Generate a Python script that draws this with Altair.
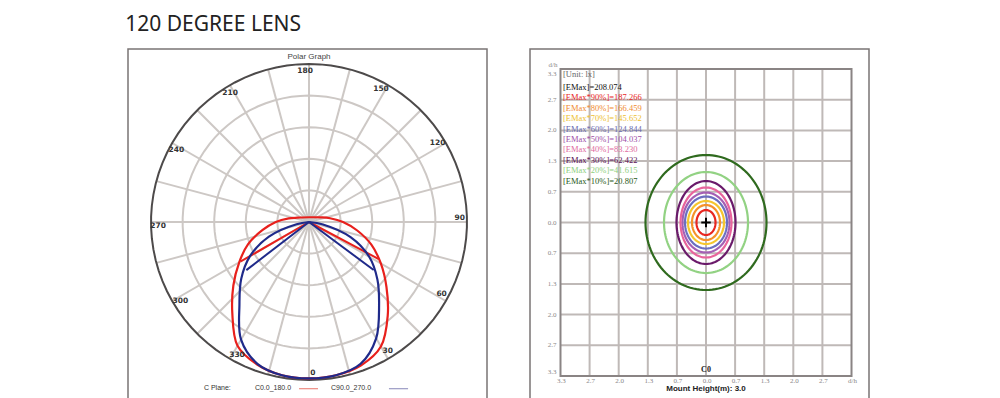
import altair as alt
import numpy as np
import pandas as pd

TITLE = "120 DEGREE LENS"

# ---------------- polar graph (left panel) ----------------
RING_RADII = [0.2, 0.4, 0.6, 0.8]
OUTER_RADIUS = [1.0]
SPOKE_ANGLES = list(range(0, 360, 15))
LABEL_ANGLES = [0, 30, 60, 90, 120, 150, 180, 210, 240, 270, 300, 330]
LABEL_TEXTS = ["0", "30", "60", "90", "120", "150", "180", "210", "240", "270", "300", "330"]

# relative intensity (outer ring = 1.0), angle 0 = straight down, + = right half
C0_ANGLES = [-180, -110, -100, -90, -80, -70, -60, -50, -40, -30, -20, -10, 0,
             10, 20, 30, 40, 50, 60, 70, 80, 90, 100, 110, 180]
C0_VALUES = [0.03, 0.08, 0.13, 0.21, 0.30, 0.41, 0.51, 0.625, 0.755, 0.905, 0.96, 0.985, 0.99,
             0.985, 0.965, 0.91, 0.775, 0.64, 0.525, 0.42, 0.31, 0.215, 0.135, 0.085, 0.03]
C90_ANGLES = [-90, -80, -70, -60, -50, -40, -30, -20, -10, 0,
              10, 20, 30, 40, 50, 60, 70, 80, 90]
C90_VALUES = [0.0, 0.08, 0.27, 0.43, 0.56, 0.685, 0.86, 0.955, 0.985, 0.99,
              0.985, 0.955, 0.85, 0.69, 0.565, 0.44, 0.28, 0.09, 0.0]
C0_CUT_ANGLES = [-60, 62]
C0_CUT_VALUES = [0.50, 0.50]
C90_CUT_ANGLES = [-52.5, 53.4]
C90_CUT_VALUES = [0.50, 0.51]

RED = "#e8201c"
BLUE = "#1f2a8a"

# ---------------- isolux diagram (right panel) ----------------
ISO_LEVELS = ["90%", "80%", "70%", "60%", "50%", "40%", "30%", "20%", "10%"]
ISO_COLORS = ["#e8261f", "#f5922a", "#f5c62e", "#6b6fc0", "#a45fb4", "#e8649c",
              "#6a1a6a", "#92d283", "#2f6a1e"]
ISO_HALF_X = [0.218, 0.321, 0.412, 0.481, 0.538, 0.584, 0.676, 0.962, 1.386]
ISO_HALF_Y = [0.271, 0.380, 0.467, 0.565, 0.651, 0.760, 0.901, 1.097, 1.466]

LEGEND_LABELS = ["[Unit: lx]", "[EMax]=208.074", "[EMax*90%]=187.266", "[EMax*80%]=166.459",
                 "[EMax*70%]=145.652", "[EMax*60%]=124.844", "[EMax*50%]=104.037",
                 "[EMax*40%]=83.230", "[EMax*30%]=62.422", "[EMax*20%]=41.615",
                 "[EMax*10%]=20.807"]
LEGEND_COLORS = ["#666666", "#111111", "#e8261f", "#f08a30", "#eec030", "#6a6ab0",
                 "#a050a8", "#e06aa0", "#5a0f55", "#8fd080", "#2a5a20"]

GRID_TICKS = [-10 / 3, -8 / 3, -2, -4 / 3, -2 / 3, 0, 2 / 3, 4 / 3, 2, 8 / 3, 10 / 3]
X_TICK_LABELS = ["3.3", "2.7", "2.0", "1.3", "0.7", "0.0", "0.7", "1.3", "2.0", "2.7", "d/h"]
Y_TICK_LABELS = ["3.3", "2.7", "2.0", "1.3", "0.7", "0.0", "0.7", "1.3", "2.0", "2.7", "3.3"]

# ======================= LEFT PANEL =======================
LW, LH = 359, 352
xs_l = alt.Scale(domain=[-1.1456, 1.1266], nice=False, zero=False)
ys_l = alt.Scale(domain=[-1.1329, 1.0949], nice=False, zero=False)

def pxy(ch):
    return ch.transform_calculate(
        px="datum.r*sin(datum.ang*PI/180)",
        py="-datum.r*cos(datum.ang*PI/180)")

def enc_l(ch, **kw):
    return ch.encode(x=alt.X("px:Q", scale=xs_l, axis=None),
                     y=alt.Y("py:Q", scale=ys_l, axis=None), **kw)

ring_angles = list(range(0, 361, 4))
rings = pd.DataFrame([{"ring": r, "r": r, "ang": a, "i": k}
                      for r in RING_RADII for k, a in enumerate(ring_angles)])
outer = pd.DataFrame([{"ring": r, "r": r, "ang": a, "i": k}
                      for r in OUTER_RADIUS for k, a in enumerate(ring_angles)])
spokes = pd.DataFrame([{"s": a, "r": rr, "ang": a, "i": k}
                       for a in SPOKE_ANGLES for k, rr in enumerate([0.0, 1.0])])

ring_layer = enc_l(pxy(alt.Chart(rings).mark_line(color="#cdc8c5", strokeWidth=2)),
                   detail="ring:N", order="i:Q")
spoke_layer = enc_l(pxy(alt.Chart(spokes).mark_line(color="#cdc8c5", strokeWidth=2)),
                    detail="s:N", order="i:Q")
outer_layer = enc_l(pxy(alt.Chart(outer).mark_line(color="#4d4a4a", strokeWidth=2)),
                    detail="ring:N", order="i:Q")

c0 = pd.DataFrame({"ang": C0_ANGLES, "r": C0_VALUES, "i": list(range(len(C0_ANGLES)))})
c90 = pd.DataFrame({"ang": C90_ANGLES, "r": C90_VALUES, "i": list(range(len(C90_ANGLES)))})
c0_cut = pd.DataFrame([{"seg": k, "ang": a, "r": rr, "i": j}
                       for k, (a, v) in enumerate(zip(C0_CUT_ANGLES, C0_CUT_VALUES))
                       for j, rr in enumerate([0.0, v])])
c90_cut = pd.DataFrame([{"seg": k, "ang": a, "r": rr, "i": j}
                        for k, (a, v) in enumerate(zip(C90_CUT_ANGLES, C90_CUT_VALUES))
                        for j, rr in enumerate([0.0, v])])

c0_layer = enc_l(pxy(alt.Chart(c0).mark_line(color=RED, strokeWidth=2.2, interpolate="catmull-rom")),
                 order="i:Q")
c90_layer = enc_l(pxy(alt.Chart(c90).mark_line(color=BLUE, strokeWidth=2.2, interpolate="catmull-rom")),
                  order="i:Q")
c0_cut_layer = enc_l(pxy(alt.Chart(c0_cut).mark_line(color=RED, strokeWidth=2)),
                     detail="seg:N", order="i:Q")
c90_cut_layer = enc_l(pxy(alt.Chart(c90_cut).mark_line(color=BLUE, strokeWidth=2)),
                      detail="seg:N", order="i:Q")

labels = pd.DataFrame({"ang": [a + 1.5 for a in LABEL_ANGLES], "r": 0.955, "t": LABEL_TEXTS})
label_layer = enc_l(pxy(alt.Chart(labels).mark_text(font="DejaVu Sans", fontSize=7.5,
                                                    fontWeight="bold", color="#333")),
                    text="t:N")

ptitle = pd.DataFrame({"px": [0.0], "py": [1.045], "t": ["Polar Graph"]})
ptitle_layer = enc_l(alt.Chart(ptitle).mark_text(font="Liberation Sans", fontSize=8, color="#444"),
                     text="t:N")

leg_text = pd.DataFrame({"px": [-0.58, -0.228, 0.266], "py": [-1.052] * 3,
                         "t": ["C Plane:", "C0.0_180.0", "C90.0_270.0"]})
leg_text_layer = enc_l(alt.Chart(leg_text).mark_text(font="Liberation Sans", fontSize=7, color="#333"),
                       text="t:N")
leg_lines = pd.DataFrame({"seg": ["a", "a", "b", "b"], "px": [-0.063, 0.057, 0.506, 0.627],
                          "py": [-1.055] * 4,
                          "col": ["#ee8a80", "#ee8a80", "#9a9ac4", "#9a9ac4"]})
leg_line_layer = enc_l(alt.Chart(leg_lines).mark_line(strokeWidth=1.2),
                       color=alt.Color("col:N", scale=None), detail="seg:N")

left = alt.layer(ring_layer, spoke_layer, outer_layer, c0_layer, c0_cut_layer,
                 c90_layer, c90_cut_layer, label_layer, ptitle_layer,
                 leg_text_layer, leg_line_layer).properties(width=LW, height=LH)

# ======================= RIGHT PANEL =======================
RW, RH = 339, 352
xs_r = alt.Scale(domain=[-4.032, 3.734], nice=False, zero=False)
ys_r = alt.Scale(domain=[-3.876, 3.768], nice=False, zero=False)

def enc_r(ch, **kw):
    return ch.encode(x=alt.X("x:Q", scale=xs_r, axis=None),
                     y=alt.Y("y:Q", scale=ys_r, axis=None), **kw)

lo, hi = GRID_TICKS[0], GRID_TICKS[-1]
vgrid = pd.DataFrame({"x": GRID_TICKS[1:-1], "y": lo, "y2": hi})
hgrid = pd.DataFrame({"y": GRID_TICKS[1:-1], "x": lo, "x2": hi})
vgrid_layer = alt.Chart(vgrid).mark_rule(color="#bfb9b7", strokeWidth=2).encode(
    x=alt.X("x:Q", scale=xs_r, axis=None), y=alt.Y("y:Q", scale=ys_r, axis=None), y2="y2:Q")
hgrid_layer = alt.Chart(hgrid).mark_rule(color="#bfb9b7", strokeWidth=2).encode(
    y=alt.Y("y:Q", scale=ys_r, axis=None), x=alt.X("x:Q", scale=xs_r, axis=None), x2="x2:Q")
frame = pd.DataFrame({"x": [lo], "x2": [hi], "y": [lo], "y2": [hi]})
frame_layer = alt.Chart(frame).mark_rect(fill=None, stroke="#8a8484", strokeWidth=2).encode(
    x=alt.X("x:Q", scale=xs_r, axis=None), x2="x2:Q",
    y=alt.Y("y:Q", scale=ys_r, axis=None), y2="y2:Q")

t = np.linspace(0, 2 * np.pi, 121)
iso = pd.DataFrame([{"lvl": lv, "col": c, "x": ax * np.cos(tt), "y": ay * np.sin(tt), "i": k}
                    for lv, c, ax, ay in zip(ISO_LEVELS, ISO_COLORS, ISO_HALF_X, ISO_HALF_Y)
                    for k, tt in enumerate(t)])
iso_layer = enc_r(alt.Chart(iso).mark_line(strokeWidth=2.2),
                  color=alt.Color("col:N", scale=None),
                  detail="lvl:N", order="i:Q")

cross = pd.DataFrame({"x": [0.0], "y": [0.0]})
cross_layer = enc_r(alt.Chart(cross).mark_point(shape="M-1,0L1,0M0,-1L0,1", size=90,
                                                 filled=False, stroke="#000", strokeWidth=2,
                                                 opacity=1))

LEG_Y0 = 3.218
LEG_Y1 = 2.949
LEG_STEP = 0.2269
leg_y = [LEG_Y0] + [LEG_Y1 - LEG_STEP * k for k in range(len(LEGEND_LABELS) - 1)]
legend_df = pd.DataFrame({"x": -3.276, "y": leg_y, "t": LEGEND_LABELS, "col": LEGEND_COLORS})
legend_layer = enc_r(alt.Chart(legend_df).mark_text(align="left", baseline="middle",
                                                     font="Liberation Serif", fontSize=8.5),
                     text="t:N", color=alt.Color("col:N", scale=None))

TICK_STYLE = dict(font="Liberation Serif", fontSize=7, color="#8a8888", baseline="middle")
xlab = pd.DataFrame({"x": GRID_TICKS, "y": -3.442, "t": X_TICK_LABELS})
xlab_layer = enc_r(alt.Chart(xlab).mark_text(dx=1, **TICK_STYLE), text="t:N")
ylab = pd.DataFrame({"y": GRID_TICKS[::-1], "x": lo, "t": Y_TICK_LABELS})
ylab_mid_layer = enc_r(alt.Chart(ylab.iloc[1:-1]).mark_text(align="right", dx=-4, **TICK_STYLE),
                       text="t:N")
ylab_top_layer = enc_r(alt.Chart(ylab.iloc[:1]).mark_text(align="right", dx=-4, dy=5, **TICK_STYLE),
                       text="t:N")
ylab_bot_layer = enc_r(alt.Chart(ylab.iloc[-1:]).mark_text(align="right", dx=-4, dy=-4, **TICK_STYLE),
                       text="t:N")
dh = pd.DataFrame({"x": [lo], "y": [hi], "t": ["d/h"]})
dh_layer = enc_r(alt.Chart(dh).mark_text(align="right", dx=-3, dy=-4, **TICK_STYLE), text="t:N")

notes = pd.DataFrame({"x": [0.0], "y": [-3.203], "t": ["C0"]})
notes_layer = enc_r(alt.Chart(notes).mark_text(font="Liberation Serif", fontSize=8,
                                                fontWeight="bold", color="#222"), text="t:N")
mh = pd.DataFrame({"x": [0.0], "y": [-3.616], "t": ["Mount Height(m): 3.0"]})
mh_layer = enc_r(alt.Chart(mh).mark_text(font="Liberation Sans", fontSize=8,
                                          fontWeight="bold", color="#222"), text="t:N")

right = alt.layer(vgrid_layer, hgrid_layer, frame_layer, iso_layer, cross_layer, legend_layer,
                  xlab_layer, ylab_mid_layer, ylab_top_layer, ylab_bot_layer, dh_layer,
                  notes_layer, mh_layer).properties(width=RW, height=RH)

chart = alt.hconcat(left, right, spacing=41).properties(
    title=alt.TitleParams(TITLE, anchor="start", font="Noto Sans", fontSize=21,
                          fontWeight="normal", color="#222", offset=13, dx=-2),
    padding={"left": 117, "top": 6, "right": 10, "bottom": 10},
).configure_view(stroke="#7a7474", strokeWidth=1.5)

chart.save("out.html", embed_options={"renderer": "svg", "actions": False})
